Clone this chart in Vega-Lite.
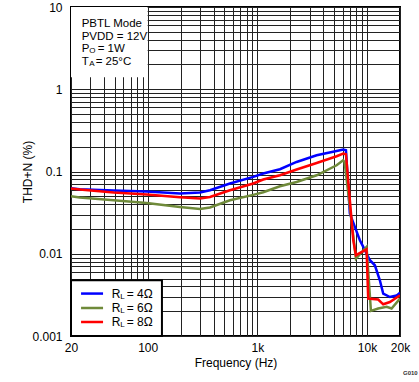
{
  "$schema": "https://vega.github.io/schema/vega-lite/v6.json",
  "width": 329,
  "height": 329,
  "autosize": {"type": "none"},
  "padding": {"left": 71, "top": 7, "right": 19, "bottom": 46},
  "background": "white",
  "title": {"text": "G010", "orient": "bottom", "anchor": "end", "fontSize": 6, "fontWeight": "bold", "font": "Liberation Sans", "color": "#333", "dx": 8, "offset": 2},
  "config": {
    "view": {"stroke": "black", "strokeWidth": 2},
    "font": "Liberation Sans",
    "axis": {
      "grid": true, "gridColor": "#222", "gridWidth": 1, "gridOpacity": 1,
      "ticks": false, "domain": false,
      "labelFont": "Liberation Sans", "labelFontSize": 12, "labelColor": "black",
      "titleFont": "Liberation Sans", "titleFontSize": 12, "titleFontWeight": "normal", "titleColor": "black",
      "labelOverlap": false, "labelFlush": false
    }
  },
  "datasets": {
    "curves": [
      {"s": "4", "f": 20, "v": 0.0626}, {"s": "4", "f": 24, "v": 0.0608}, {"s": "4", "f": 49, "v": 0.0587}, {"s": "4", "f": 98, "v": 0.0571}, {"s": "4", "f": 197, "v": 0.0539}, {"s": "4", "f": 300, "v": 0.0555}, {"s": "4", "f": 370, "v": 0.0592}, {"s": "4", "f": 563, "v": 0.0714}, {"s": "4", "f": 918, "v": 0.0859}, {"s": "4", "f": 1132, "v": 0.0944}, {"s": "4", "f": 1608, "v": 0.1065}, {"s": "4", "f": 2281, "v": 0.1306}, {"s": "4", "f": 3476, "v": 0.1576}, {"s": "4", "f": 5285, "v": 0.1778}, {"s": "4", "f": 6070, "v": 0.1849}, {"s": "4", "f": 6430, "v": 0.181}, {"s": "4", "f": 6980, "v": 0.0308}, {"s": "4", "f": 8610, "v": 0.0146}, {"s": "4", "f": 9250, "v": 0.0121}, {"s": "4", "f": 10630, "v": 0.00834}, {"s": "4", "f": 11800, "v": 0.00724}, {"s": "4", "f": 13100, "v": 0.00476}, {"s": "4", "f": 14060, "v": 0.00328}, {"s": "4", "f": 16180, "v": 0.00298}, {"s": "4", "f": 18610, "v": 0.0031}, {"s": "4", "f": 20000, "v": 0.00337},
      {"s": "6", "f": 20, "v": 0.05}, {"s": "6", "f": 24, "v": 0.0483}, {"s": "6", "f": 49, "v": 0.0447}, {"s": "6", "f": 98, "v": 0.0415}, {"s": "6", "f": 197, "v": 0.0371}, {"s": "6", "f": 300, "v": 0.0351}, {"s": "6", "f": 370, "v": 0.0365}, {"s": "6", "f": 563, "v": 0.0447}, {"s": "6", "f": 918, "v": 0.052}, {"s": "6", "f": 1132, "v": 0.056}, {"s": "6", "f": 1608, "v": 0.0662}, {"s": "6", "f": 2281, "v": 0.0746}, {"s": "6", "f": 3476, "v": 0.09}, {"s": "6", "f": 5285, "v": 0.1191}, {"s": "6", "f": 6070, "v": 0.137}, {"s": "6", "f": 6250, "v": 0.13}, {"s": "6", "f": 7930, "v": 0.00874}, {"s": "6", "f": 9910, "v": 0.0121}, {"s": "6", "f": 10860, "v": 0.00202}, {"s": "6", "f": 12650, "v": 0.00216}, {"s": "6", "f": 15100, "v": 0.00226}, {"s": "6", "f": 16760, "v": 0.00216}, {"s": "6", "f": 20000, "v": 0.00285},
      {"s": "8", "f": 20, "v": 0.062}, {"s": "8", "f": 24, "v": 0.0604}, {"s": "8", "f": 49, "v": 0.0555}, {"s": "8", "f": 98, "v": 0.0524}, {"s": "8", "f": 197, "v": 0.0487}, {"s": "8", "f": 300, "v": 0.0469}, {"s": "8", "f": 370, "v": 0.0491}, {"s": "8", "f": 563, "v": 0.0592}, {"s": "8", "f": 918, "v": 0.0714}, {"s": "8", "f": 1132, "v": 0.0798}, {"s": "8", "f": 1608, "v": 0.09}, {"s": "8", "f": 2281, "v": 0.1057}, {"s": "8", "f": 3476, "v": 0.127}, {"s": "8", "f": 5285, "v": 0.1532}, {"s": "8", "f": 6070, "v": 0.1653}, {"s": "8", "f": 6430, "v": 0.162}, {"s": "8", "f": 7500, "v": 0.0146}, {"s": "8", "f": 7930, "v": 0.0096}, {"s": "8", "f": 9910, "v": 0.0113}, {"s": "8", "f": 10260, "v": 0.00285}, {"s": "8", "f": 12650, "v": 0.00278}, {"s": "8", "f": 14060, "v": 0.00243}, {"s": "8", "f": 16180, "v": 0.00259}, {"s": "8", "f": 20000, "v": 0.00313}
    ],
    "note": [
      {"k": "main", "y": 5.67, "t": "PBTL Mode"},
      {"k": "main", "y": 4.0, "t": "PVDD = 12V"},
      {"k": "main", "y": 2.82, "t": "P"},
      {"k": "main", "y": 1.99, "t": "T"},
      {"k": "sub", "y": 2.82, "t": "O"},
      {"k": "sub", "y": 1.99, "t": "A"},
      {"k": "restP", "y": 2.82, "t": "= 1W"},
      {"k": "restT", "y": 1.99, "t": "= 25°C"}
    ],
    "leg": [
      {"s": "4", "y": 0.00328, "lbl": "= 4Ω"},
      {"s": "6", "y": 0.00219, "lbl": "= 6Ω"},
      {"s": "8", "y": 0.00148, "lbl": "= 8Ω"}
    ]
  },
  "layer": [
    {
      "data": {"name": "curves"},
      "mark": {"type": "line", "strokeWidth": 2.5, "clip": true},
      "encoding": {
        "x": {"field": "f", "type": "quantitative", "title": "Frequency (Hz)",
          "scale": {"type": "log", "domain": [20, 20000], "nice": false},
          "axis": {"labelPadding": 6, "titlePadding": 4,
            "values": [20, 30, 40, 50, 60, 70, 80, 90, 100, 200, 300, 400, 500, 600, 700, 800, 900, 1000, 2000, 3000, 4000, 5000, 6000, 7000, 8000, 9000, 10000, 20000],
            "labelExpr": "datum.value == 20 ? '20' : datum.value == 100 ? '100' : datum.value == 1000 ? '1k' : datum.value == 10000 ? '10k' : datum.value == 20000 ? '20k' : ''"}},
        "y": {"field": "v", "type": "quantitative", "title": "THD+N (%)",
          "scale": {"type": "log", "domain": [0.001, 10], "nice": false},
          "axis": {"labelPadding": 9, "titlePadding": -3,
            "values": [0.001, 0.002, 0.003, 0.004, 0.005, 0.006, 0.007, 0.008, 0.009, 0.01, 0.02, 0.03, 0.04, 0.05, 0.06, 0.07, 0.08, 0.09, 0.1, 0.2, 0.3, 0.4, 0.5, 0.6, 0.7, 0.8, 0.9, 1, 2, 3, 4, 5, 6, 7, 8, 9, 10],
            "labelExpr": "datum.value == 0.001 ? '0.001' : datum.value == 0.01 ? '0.01' : datum.value == 0.1 ? '0.1' : datum.value == 1 ? '1' : datum.value == 10 ? '10' : ''"}},
        "color": {"field": "s", "type": "nominal", "legend": null,
          "scale": {"domain": ["4", "6", "8"], "range": ["#0000FF", "#6F8A3A", "#FF0000"]}},
        "order": {"field": "s"}
      }
    },
    {
      "data": {"values": [{"a": 1}]},
      "mark": {"type": "rect", "fill": "white", "stroke": null},
      "encoding": {
        "x": {"datum": 20, "type": "quantitative", "title": "Frequency (Hz)"},
        "x2": {"datum": 100},
        "y": {"datum": 1.4, "type": "quantitative", "title": "THD+N (%)"},
        "y2": {"datum": 10}
      }
    },
    {
      "data": {"values": [{"a": 1}]},
      "mark": {"type": "rect", "fill": "white", "stroke": "black", "strokeWidth": 2},
      "encoding": {
        "x": {"datum": 20, "type": "quantitative", "title": "Frequency (Hz)"},
        "x2": {"datum": 135},
        "y": {"datum": 0.001, "type": "quantitative", "title": "THD+N (%)"},
        "y2": {"datum": 0.00476}
      }
    },
    {
      "data": {"name": "note"},
      "transform": [{"filter": "datum.k == 'main'"}],
      "mark": {"type": "text", "align": "left", "baseline": "alphabetic", "fontSize": 11.5, "font": "Liberation Sans", "color": "black"},
      "encoding": {
        "x": {"datum": 25, "type": "quantitative", "title": "Frequency (Hz)"},
        "y": {"field": "y", "type": "quantitative", "title": "THD+N (%)"},
        "text": {"field": "t"}
      }
    },
    {
      "data": {"name": "note"},
      "transform": [{"filter": "datum.k == 'sub'"}],
      "mark": {"type": "text", "align": "left", "baseline": "alphabetic", "fontSize": 8, "font": "Liberation Sans", "color": "black", "dx": 7.5, "dy": 1},
      "encoding": {
        "x": {"datum": 25, "type": "quantitative", "title": "Frequency (Hz)"},
        "y": {"field": "y", "type": "quantitative", "title": "THD+N (%)"},
        "text": {"field": "t"}
      }
    },
    {
      "data": {"name": "note"},
      "transform": [{"filter": "datum.k == 'restP'"}],
      "mark": {"type": "text", "align": "left", "baseline": "alphabetic", "fontSize": 11.5, "font": "Liberation Sans", "color": "black", "dx": 16},
      "encoding": {
        "x": {"datum": 25, "type": "quantitative", "title": "Frequency (Hz)"},
        "y": {"field": "y", "type": "quantitative", "title": "THD+N (%)"},
        "text": {"field": "t"}
      }
    },
    {
      "data": {"name": "note"},
      "transform": [{"filter": "datum.k == 'restT'"}],
      "mark": {"type": "text", "align": "left", "baseline": "alphabetic", "fontSize": 11.5, "font": "Liberation Sans", "color": "black", "dx": 14},
      "encoding": {
        "x": {"datum": 25, "type": "quantitative", "title": "Frequency (Hz)"},
        "y": {"field": "y", "type": "quantitative", "title": "THD+N (%)"},
        "text": {"field": "t"}
      }
    },
    {
      "data": {"name": "leg"},
      "mark": {"type": "rule", "strokeWidth": 2.5},
      "encoding": {
        "x": {"datum": 24.7, "type": "quantitative", "title": "Frequency (Hz)"},
        "x2": {"datum": 39.2},
        "y": {"field": "y", "type": "quantitative", "title": "THD+N (%)"},
        "color": {"field": "s", "type": "nominal", "legend": null}
      }
    },
    {
      "data": {"name": "leg"},
      "mark": {"type": "text", "align": "left", "baseline": "middle", "fontSize": 12, "font": "Liberation Sans", "color": "black"},
      "encoding": {
        "x": {"datum": 47, "type": "quantitative", "title": "Frequency (Hz)"},
        "y": {"field": "y", "type": "quantitative", "title": "THD+N (%)"},
        "text": {"value": "R"}
      }
    },
    {
      "data": {"name": "leg"},
      "mark": {"type": "text", "align": "left", "baseline": "middle", "fontSize": 8, "font": "Liberation Sans", "color": "black", "dx": 8.5, "dy": 3},
      "encoding": {
        "x": {"datum": 47, "type": "quantitative", "title": "Frequency (Hz)"},
        "y": {"field": "y", "type": "quantitative", "title": "THD+N (%)"},
        "text": {"value": "L"}
      }
    },
    {
      "data": {"name": "leg"},
      "mark": {"type": "text", "align": "left", "baseline": "middle", "fontSize": 12, "font": "Liberation Sans", "color": "black", "dx": 15},
      "encoding": {
        "x": {"datum": 47, "type": "quantitative", "title": "Frequency (Hz)"},
        "y": {"field": "y", "type": "quantitative", "title": "THD+N (%)"},
        "text": {"field": "lbl"}
      }
    }
  ]
}
